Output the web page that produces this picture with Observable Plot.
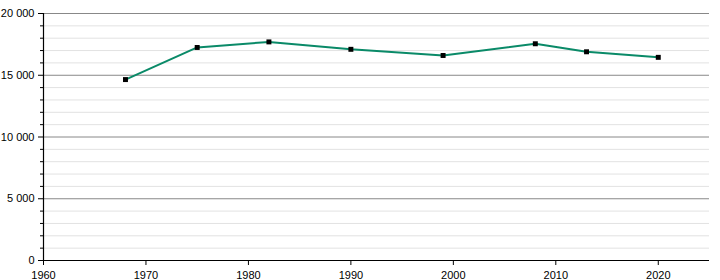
<!DOCTYPE html>
<html>
<head>
<meta charset="utf-8">
<script src="https://cdn.jsdelivr.net/npm/d3@7"></script>
<script src="https://cdn.jsdelivr.net/npm/@observablehq/plot@0.6"></script>
<style>
  html, body { margin: 0; padding: 0; background: #fff; }
</style>
</head>
<body>
<div id="chart"></div>
<script>
const years = [1968, 1975, 1982, 1990, 1999, 2008, 2013, 2020];
const population = [14650, 17250, 17700, 17100, 16600, 17550, 16900, 16450];
const xTicks = [1960, 1970, 1980, 1990, 2000, 2010, 2020];
const yMajor = [0, 5000, 10000, 15000, 20000];
const yMinor = [1000, 2000, 3000, 4000, 6000, 7000, 8000, 9000, 11000, 12000, 13000, 14000, 16000, 17000, 18000, 19000];

const data = years.map((y, i) => ({year: y, value: population[i]}));
const fmt = d3.formatLocale({decimal: ".", thousands: "\u00a0", grouping: [3], currency: ["", ""]}).format(",");

const chart = Plot.plot({
  width: 720,
  height: 280,
  marginLeft: 43,
  marginRight: 11,
  marginTop: 13,
  marginBottom: 20,
  style: {fontFamily: "'Liberation Sans', Arial, sans-serif", fontSize: "11px", color: "#000", background: "#fff"},
  x: {domain: [1960, 2025]},
  y: {domain: [0, 20000]},
  marks: [
    Plot.ruleY(yMinor, {stroke: "#e2e2e2", strokeWidth: 1}),
    Plot.ruleY(yMajor.filter(d => d > 0), {stroke: "#888", strokeWidth: 1}),
    Plot.axisY({ticks: yMinor, tickSize: 3, tickFormat: () => "", label: null, stroke: "#000"}),
    Plot.axisY({ticks: yMajor, tickSize: 5, tickPadding: 4, tickFormat: fmt, label: null, stroke: "#000"}),
    Plot.axisX({ticks: xTicks, tickSize: 5, tickPadding: 6, tickFormat: d => String(d), label: null, stroke: "#000"}),
    Plot.ruleX([1960], {stroke: "#000", strokeWidth: 1.2}),
    Plot.ruleY([0], {stroke: "#000", strokeWidth: 1.2}),
    Plot.line(data, {x: "year", y: "value", stroke: "#0a8a68", strokeWidth: 2}),
    Plot.dot(data, {x: "year", y: "value", symbol: "square", fill: "#000", r: 2.8})
  ]
});
document.getElementById("chart").appendChild(chart);
</script>
</body>
</html>
